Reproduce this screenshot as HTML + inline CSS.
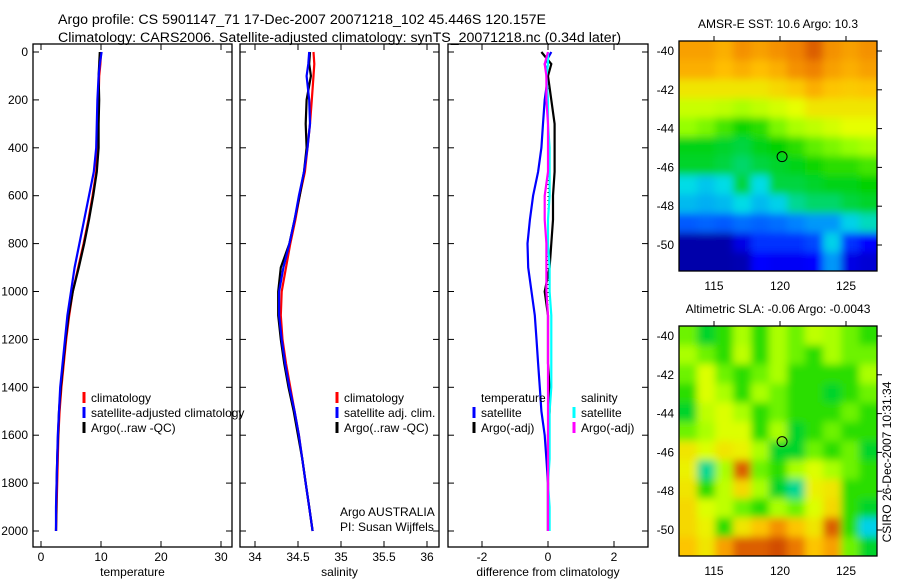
<!DOCTYPE html>
<html><head><meta charset="utf-8"><style>
body{margin:0;background:#fff;}
svg{display:block;font-family:"Liberation Sans",sans-serif;}
text{font-size:12px;fill:#000;}
</style></head><body>
<svg id="fig" width="900" height="580" viewBox="0 0 900 580" xmlns="http://www.w3.org/2000/svg">
<defs>
<filter id="blur" x="0" y="0" width="1" height="1"><feGaussianBlur stdDeviation="4"/></filter>
<clipPath id="c1"><rect x="679" y="41" width="198" height="230"/></clipPath>
<clipPath id="c2"><rect x="679" y="326" width="198" height="230"/></clipPath>
</defs>
<text x="58" y="24" style="font-size:14.2px">Argo profile: CS 5901147_71 17-Dec-2007 20071218_102 45.446S 120.157E</text>
<text x="58" y="42" style="font-size:14.2px">Climatology: CARS2006. Satellite-adjusted climatology: synTS_20071218.nc (0.34d later)</text>
<g id="g"></g>
</svg>
<script>
const depths=[0,50,100,200,300,400,500,600,700,800,900,1000,1100,1200,1300,1400,1500,1600,1700,1800,1900,2000];
const tempClim=[10,9.9,9.7,9.6,9.5,9.4,9.2,8.6,7.9,7.1,6.2,5.3,4.7,4.2,3.8,3.4,3.1,2.9,2.8,2.7,2.6,2.5];
const tempSat=[10.1,9.8,9.6,9.4,9.3,9.2,8.8,8.0,7.2,6.4,5.6,5.0,4.4,4.0,3.6,3.2,3.0,2.8,2.7,2.6,2.5,2.5];
const tempArgo=[9.8,9.7,9.6,9.7,9.6,9.6,9.3,8.7,8.0,7.2,6.3,5.3,4.6,4.1,3.7,3.3,3.0,2.85,2.7,2.6,2.55,2.5];
const salClim=[34.68,34.69,34.68,34.66,34.64,34.61,34.58,34.52,34.47,34.41,34.36,34.31,34.3,34.32,34.36,34.41,34.46,34.51,34.55,34.59,34.63,34.67];
const salSat=[34.63,34.62,34.6,34.63,34.64,34.61,34.57,34.51,34.46,34.4,34.33,34.28,34.28,34.31,34.35,34.4,34.46,34.51,34.55,34.59,34.63,34.67];
const salArgo=[34.64,34.63,34.65,34.6,34.59,34.6,34.57,34.52,34.46,34.4,34.3,34.27,34.27,34.3,34.34,34.39,34.45,34.5,34.55,34.59,34.63,34.67];
const dTsat=[0.1,-0.1,0,-0.1,-0.15,-0.2,-0.3,-0.45,-0.55,-0.62,-0.6,-0.5,-0.4,-0.35,-0.3,-0.25,-0.2,-0.1,-0.05,0,0,0];
const dTargo=[-0.2,0.1,0,0.1,0.2,0.2,0.2,0.15,0.15,0.1,0.05,-0.1,0,0,0,0.05,0.05,0,0,0,0,0];
const dSsat=[0,0,-0.05,0,0,0.05,0.05,0.05,0,0,0.05,0.05,0.1,0.1,0.1,0.1,0.05,0.05,0.05,0,0.05,0.05];
const dSargo=[0,-0.1,-0.05,-0.05,0,0,0,-0.1,-0.1,-0.05,-0.05,-0.05,0,0,0,0,0,0,0,0,0,0];
const tTicks=[0,10,20,30], sTicks=[34,34.5,35,35.5,36], dTicks=[-2,0,2], yTicks=[0,200,400,600,800,1000,1200,1400,1600,1800,2000];
const sstGrid=[
[.8,.8,.78,.82,.8,.82,.84,.88,.82,.8,.82],
[.78,.78,.76,.78,.76,.78,.82,.84,.8,.78,.8],
[.7,.7,.7,.7,.7,.72,.74,.78,.75,.74,.75],
[.63,.63,.62,.6,.62,.64,.66,.7,.7,.7,.7],
[.58,.56,.52,.48,.5,.56,.6,.62,.64,.66,.66],
[.46,.46,.45,.44,.46,.47,.5,.54,.56,.58,.6],
[.45,.45,.44,.42,.44,.45,.46,.48,.5,.5,.52],
[.36,.34,.36,.44,.36,.44,.44,.45,.46,.46,.47],
[.33,.32,.33,.36,.33,.35,.4,.42,.42,.44,.45],
[.24,.25,.24,.26,.25,.26,.28,.3,.3,.35,.38],
[.05,.05,.05,.12,.2,.2,.2,.22,.35,.2,.15],
[.05,.05,.05,.06,.15,.14,.14,.15,.3,.12,.1]];
const slaGrid=[
[.55,.45,.5,.6,.5,.6,.55,.62,.6,.55,.5],
[.6,.55,.5,.62,.5,.6,.55,.5,.6,.55,.55],
[.55,.65,.55,.5,.55,.6,.5,.5,.5,.5,.6],
[.5,.65,.6,.5,.6,.55,.5,.5,.45,.5,.55],
[.45,.62,.65,.6,.5,.55,.5,.5,.5,.55,.5],
[.55,.6,.65,.65,.5,.6,.45,.5,.55,.5,.5],
[.7,.65,.7,.68,.6,.45,.45,.55,.5,.55,.45],
[.68,.4,.6,.88,.55,.5,.6,.65,.6,.55,.5],
[.7,.5,.62,.72,.6,.45,.4,.68,.7,.5,.5],
[.72,.65,.62,.55,.5,.6,.55,.65,.72,.5,.45],
[.72,.68,.5,.7,.75,.82,.75,.7,.88,.5,.35],
[.75,.7,.8,.88,.88,.9,.85,.75,.8,.55,.45]];
const lonTicks=[115,120,125], latTicks=[-40,-42,-44,-46,-48,-50];
const argoLon=120.157, argoLat=-45.446;

const NS="http://www.w3.org/2000/svg", G=document.getElementById('g');
function el(t,a,p){const e=document.createElementNS(NS,t);for(const k in a)e.setAttribute(k,a[k]);(p||G).appendChild(e);return e;}
const yD=d=>52+d*0.2395;
function panel(name,x0,x1,xs,ticks,fmt,label,showY){
  const g=el('g',{});
  
  
  el('rect',{x:x0,y:44,width:x1-x0,height:503,fill:'none',stroke:'#000','stroke-width':1.3},g);
  ticks.forEach(v=>{const x=xs(v);
    el('line',{x1:x,x2:x,y1:547,y2:541,stroke:'#000'},g);el('line',{x1:x,x2:x,y1:44,y2:50,stroke:'#000'},g);
    const t=el('text',{x:x,y:561,'text-anchor':'middle'},g);t.textContent=fmt(v);
    });
  yTicks.forEach(d=>{const y=yD(d);
    el('line',{x1:x0,x2:x0+6,y1:y,y2:y,stroke:'#000'},g);el('line',{x1:x1,x2:x1-6,y1:y,y2:y,stroke:'#000'},g);
    if(showY){const t=el('text',{x:x0-5,y:y+4,'text-anchor':'end'},g);t.textContent=d;
      }});
  const t=el('text',{x:(x0+x1)/2,y:576,'text-anchor':'middle'},g);t.textContent=label;
  
  return g;
}
function line(g,xs,vals,col,name,w){
  const p=el('polyline',{points:vals.map((v,i)=>xs(v).toFixed(1)+','+yD(depths[i]).toFixed(1)).join(' '),fill:'none',stroke:col,'stroke-width':w||2.2},g);
  
}
function legend(g,x,y,items){
  items.forEach((it,i)=>{
    if(it[0])el('line',{x1:x,x2:x,y1:y+i*15-10,y2:y+i*15+1,stroke:it[0],'stroke-width':3},g);
    const t=el('text',{x:x+7,y:y+i*15},g);t.textContent=it[1];
    });
}
const xT=v=>41+v*6;
let g1=panel('temperature-panel',33,232,xT,tTicks,v=>v,'temperature',true);
line(g1,xT,tempClim,'#f00','climatology-line');line(g1,xT,tempArgo,'#000','argo-line');line(g1,xT,tempSat,'#00f','satellite-line');
legend(g1,84,402,[['#f00','climatology'],['#00f','satellite-adjusted climatology'],['#000','Argo(..raw -QC)']]);
const xS=v=>255+(v-34)*86;
let g2=panel('salinity-panel',240,439,xS,sTicks,v=>v,'salinity',false);
line(g2,xS,salClim,'#f00','climatology-line');line(g2,xS,salArgo,'#000','argo-line');line(g2,xS,salSat,'#00f','satellite-line');
legend(g2,337,402,[['#f00','climatology'],['#00f','satellite adj. clim.'],['#000','Argo(..raw -QC)']]);
let tt=el('text',{x:340,y:516},g2);tt.textContent='Argo AUSTRALIA';
tt=el('text',{x:340,y:531},g2);tt.textContent='PI: Susan Wijffels';
const xDf=v=>548+v*33;
let g3=panel('difference-panel',448,648,xDf,dTicks,v=>v,'difference from climatology',false);
el('line',{x1:548,x2:548,y1:52,y2:531,stroke:'#000','stroke-dasharray':'1,3'},g3);
line(g3,xDf,dTsat,'#00f','temp-satellite-diff');line(g3,xDf,dTargo,'#000','temp-argo-diff');
line(g3,xDf,dSsat,'#0ff','sal-satellite-diff');line(g3,xDf,dSargo,'#f0f','sal-argo-diff');
legend(g3,474,402,[[null,'temperature'],['#00f','satellite'],['#000','Argo(-adj)']]);
legend(g3,574,402,[[null,'salinity'],['#0ff','satellite'],['#f0f','Argo(-adj)']]);

const stops=[[0,[0,0,127]],[0.15,[0,0,255]],[0.28,[0,130,255]],[0.36,[0,220,230]],[0.47,[0,210,0]],[0.58,[150,255,0]],[0.66,[230,255,0]],[0.76,[255,190,0]],[0.84,[240,130,0]],[0.92,[200,60,0]],[1,[150,20,0]]];
function cmap(v){for(let i=1;i<stops.length;i++)if(v<=stops[i][0]){const a=stops[i-1],b=stops[i],t=(v-a[0])/(b[0]-a[0]);
  return 'rgb('+a[1].map((c,k)=>Math.round(c+(b[1][k]-c)*t)).join(',')+')';}return 'rgb(150,20,0)';}
function map(name,top,grid,clip,title){
  const g=el('g',{});
  
  const xL=v=>714+(v-115)*13.2, yL=v=>top+10+(-40-v)*19.4;
  const img=el('g',{'clip-path':'url(#'+clip+')'},g);
  const inner=el('g',{filter:'url(#blur)'},img);
  const cw=198/11, ch=230/12;
  el('rect',{x:669,y:top-10,width:218,height:250,fill:cmap(grid[0][0])},inner);
  grid.forEach((row,r)=>row.forEach((v,c)=>{
    const cell=el('rect',{x:(679+c*cw-(c==0?12:0)).toFixed(1),y:(top+r*ch-(r==0?12:0)).toFixed(1),width:(cw+(c==0||c==10?12:0)+0.5).toFixed(1),height:(ch+(r==0||r==11?12:0)+0.5).toFixed(1),fill:cmap(v)},inner);
    }));
  el('rect',{x:679,y:top,width:198,height:230,fill:'none',stroke:'#000','stroke-width':1.3},g);
  lonTicks.forEach(v=>{const x=xL(v);el('line',{x1:x,x2:x,y1:top,y2:top-5,stroke:'#000'},g);
    const t=el('text',{x:x,y:top+249,'text-anchor':'middle'},g);t.textContent=v;
    });
  latTicks.forEach(v=>{const y=yL(v);el('line',{x1:877,x2:882,y1:y,y2:y,stroke:'#000'},g);
    const t=el('text',{x:674,y:y+4,'text-anchor':'end'},g);t.textContent=v;
    });
  const c=el('circle',{cx:xL(argoLon),cy:yL(argoLat),r:5,fill:'none',stroke:'#000','stroke-width':1},g);
  
  const t=el('text',{x:778,y:top-13,'text-anchor':'middle'},g);t.textContent=title;
  
}
map('sst-map',41,sstGrid,'c1','AMSR-E SST: 10.6 Argo: 10.3');
map('sla-map',326,slaGrid,'c2','Altimetric SLA: -0.06 Argo: -0.0043');
const ft=el('text',{x:0,y:0,transform:'translate(891,462) rotate(-90)','text-anchor':'middle'});
ft.textContent='CSIRO 26-Dec-2007 10:31:34';


</script>
</body></html>
